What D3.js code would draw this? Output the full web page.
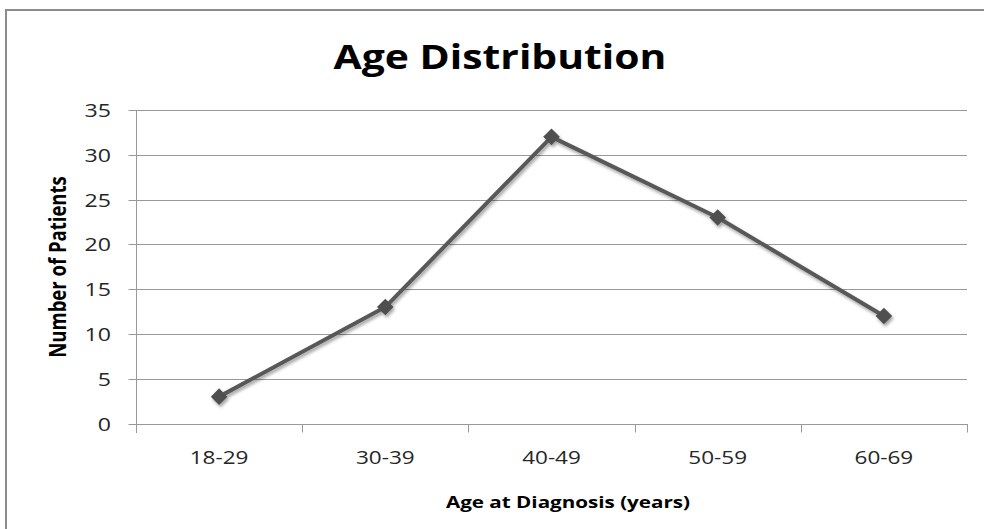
<!DOCTYPE html>
<html>
<head>
<meta charset="utf-8">
<script src="https://cdn.jsdelivr.net/npm/d3@7"></script>
<style>
  html, body { margin: 0; padding: 0; background: #fff; overflow: hidden; }
  svg { display: block; }
  text { font-family: "Open Sans", "DejaVu Sans", sans-serif; }
</style>
</head>
<body>
<svg id="chart" width="984" height="529"></svg>
<script>
// Patients per age band at diagnosis
const categories = ["18-29", "30-39", "40-49", "50-59", "60-69"];
const patients = [3, 13, 32, 23, 12];
const yTicks = [0, 5, 10, 15, 20, 25, 30, 35];

const chartTitle = "Age Distribution";
const xTitle = "Age at Diagnosis (years)";
const yTitle = "Number of Patients";

const W = 984, H = 529;
const plot = { left: 136, right: 967, top: 110, bottom: 423.5 };
const textStretch = 1.25;
const gridColor = "#999999";
const seriesColor = "#595959";

const svg = d3.select("#chart");

// chart frame: left and top edges
const frame = svg.append("g").attr("stroke", "#8c8c8c").attr("stroke-width", 2);
frame.append("line").attr("x1", 6).attr("x2", 6).attr("y1", 9).attr("y2", H);
frame.append("line").attr("x1", 5).attr("x2", W).attr("y1", 10).attr("y2", 10);

const x = d3.scaleBand().domain(categories).range([plot.left, plot.right]);
const y = d3.scaleLinear().domain([0, 35]).range([plot.bottom, plot.top]);

// drop shadow used by the series
const defs = svg.append("defs");
const f = defs.append("filter").attr("id", "shadow")
  .attr("x", "-50%").attr("y", "-50%").attr("width", "200%").attr("height", "200%");
f.append("feDropShadow")
  .attr("dx", 1.5).attr("dy", 2.5).attr("stdDeviation", 1.8)
  .attr("flood-color", "#000").attr("flood-opacity", 0.35);

// text helper with a slight horizontal stretch
function label(g, str, tx, ty, opts) {
  return g.append("text")
    .attr("transform", `translate(${tx},${ty}) scale(${opts.stretch || textStretch},1)`)
    .attr("text-anchor", opts.anchor || "middle")
    .attr("font-size", opts.size)
    .attr("font-weight", opts.weight || "normal")
    .attr("fill", opts.fill || "#000")
    .text(str);
}

// horizontal gridlines
svg.append("g").selectAll("line")
  .data(yTicks.filter(d => d > 0))
  .join("line")
  .attr("x1", plot.left).attr("x2", plot.right)
  .attr("y1", d => Math.round(y(d)) + 0.5).attr("y2", d => Math.round(y(d)) + 0.5)
  .attr("stroke", gridColor).attr("stroke-width", 1);

// y axis (line + ticks) from d3.axisLeft
const yAxis = svg.append("g")
  .attr("transform", `translate(${plot.left + 0.5},0.5)`)
  .call(d3.axisLeft(y).tickValues(yTicks).tickSize(8).tickSizeOuter(0).tickFormat(""));
yAxis.select(".domain").attr("stroke", gridColor)
  .attr("d", `M0,${y(35)}V${plot.bottom + 9}`);
yAxis.selectAll(".tick line").attr("stroke", gridColor);
yAxis.selectAll(".tick").attr("transform", d => `translate(0,${Math.round(y(d))})`);

// y tick labels
const yl = svg.append("g");
yTicks.forEach(d => {
  label(yl, d, plot.left - 25, y(d) + 7, { size: 18.5, anchor: "end", fill: "#262626" });
});

// x axis: baseline and tick marks at band boundaries
const bounds = categories.map(c => x(c)).concat([x.range()[1]]);
const xa = svg.append("g");
xa.append("line")
  .attr("x1", plot.left).attr("x2", plot.right)
  .attr("y1", Math.round(plot.bottom) + 0.5).attr("y2", Math.round(plot.bottom) + 0.5)
  .attr("stroke", gridColor);
xa.selectAll("line.tick").data(bounds).join("line")
  .attr("class", "tick")
  .attr("x1", d => Math.round(d) + 0.5).attr("x2", d => Math.round(d) + 0.5)
  .attr("y1", Math.round(plot.bottom)).attr("y2", plot.bottom + 9)
  .attr("stroke", gridColor);

// x tick labels
categories.forEach(c => {
  label(xa, c, x(c) + x.bandwidth() / 2, 463.5, { size: 18, fill: "#262626" });
});

// series line
const line = d3.line()
  .x((d, i) => x(categories[i]) + x.bandwidth() / 2)
  .y(d => y(d));
const series = svg.append("g").attr("filter", "url(#shadow)");
series.append("path")
  .datum(patients)
  .attr("d", line)
  .attr("fill", "none")
  .attr("stroke", seriesColor)
  .attr("stroke-width", 4)
  .attr("stroke-linejoin", "round");

// diamond markers
const diamond = d3.symbol().type(d3.symbolDiamond2).size(175);
series.selectAll("path.marker")
  .data(patients)
  .join("path")
  .attr("class", "marker")
  .attr("d", diamond)
  .attr("transform", (d, i) => `translate(${x(categories[i]) + x.bandwidth() / 2},${y(d)})`)
  .attr("fill", "#4f4f4f");

// titles
label(svg, chartTitle, 500, 69, { size: 33.5, weight: "bold", stretch: 1.22 });
label(svg, xTitle, 568, 508, { size: 16.5, weight: "bold", stretch: 1.25 });
svg.append("text")
  .attr("transform", `translate(66,267) rotate(-90) scale(1,1.25)`)
  .attr("text-anchor", "middle")
  .attr("font-size", 18.5)
  .attr("font-weight", "bold")
  .attr("fill", "#000")
  .text(yTitle);
</script>
</body>
</html>
